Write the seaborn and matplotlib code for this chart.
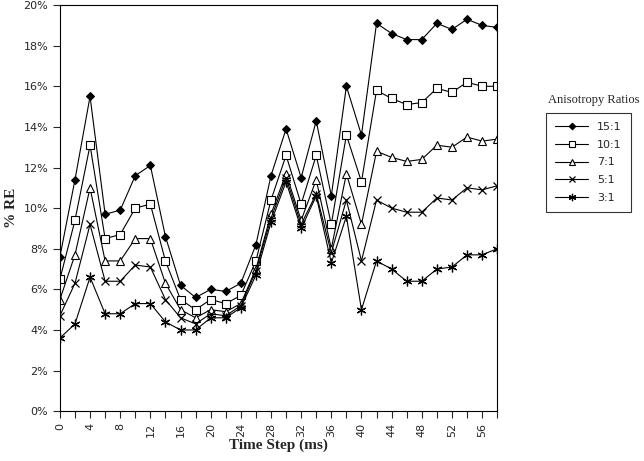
import numpy as np
import pandas as pd
import matplotlib
matplotlib.use('Agg')
import matplotlib.pyplot as plt
import seaborn as sns
from matplotlib.ticker import PercentFormatter, MultipleLocator

# time steps (ms)
time_step = list(range(0, 60, 2))

# % RE per anisotropy ratio
re_15 = [7.6, 11.4, 15.5, 9.7, 9.9, 11.6, 12.1, 8.6, 6.2, 5.6, 6.0, 5.9, 6.3, 8.2, 11.6,
         13.9, 11.5, 14.3, 10.6, 16.0, 13.6, 19.1, 18.6, 18.3, 18.3, 19.1, 18.8, 19.3, 19.0, 18.9]
re_10 = [6.5, 9.4, 13.1, 8.5, 8.7, 10.0, 10.2, 7.4, 5.5, 5.0, 5.5, 5.3, 5.7, 7.4, 10.4,
         12.6, 10.2, 12.6, 9.2, 13.6, 11.3, 15.8, 15.4, 15.1, 15.2, 15.9, 15.7, 16.2, 16.0, 16.0]
re_7 = [5.5, 7.7, 11.0, 7.4, 7.4, 8.5, 8.5, 6.3, 5.0, 4.6, 5.0, 4.9, 5.3, 7.0, 9.7,
        11.7, 9.4, 11.4, 8.0, 11.7, 9.2, 12.8, 12.5, 12.3, 12.4, 13.1, 13.0, 13.5, 13.3, 13.4]
re_5 = [4.7, 6.3, 9.2, 6.4, 6.4, 7.2, 7.1, 5.5, 4.6, 4.3, 4.8, 4.7, 5.2, 6.9, 9.5,
        11.5, 9.2, 10.7, 7.8, 10.4, 7.4, 10.4, 10.0, 9.8, 9.8, 10.5, 10.4, 11.0, 10.9, 11.1]
re_3 = [3.6, 4.3, 6.6, 4.8, 4.8, 5.3, 5.3, 4.4, 4.0, 4.0, 4.6, 4.6, 5.1, 6.7, 9.3,
        11.3, 9.0, 10.6, 7.3, 9.6, 5.0, 7.4, 7.0, 6.4, 6.4, 7.0, 7.1, 7.7, 7.7, 8.0]

ratio_labels = ['15:1', '10:1', '7:1', '5:1', '3:1']
series = [re_15, re_10, re_7, re_5, re_3]

df = pd.DataFrame({'time': time_step * 5,
                   're': np.concatenate(series),
                   'ratio': np.repeat(ratio_labels, len(time_step))})

sns.set_style('white')
plt.rcParams['font.family'] = ['DejaVu Sans']

fig = plt.figure(figsize=(6.44, 4.61), dpi=100)
ax = fig.add_axes([0.093, 0.108, 0.679, 0.881])

marker_styles = {
    '15:1': dict(marker='D', markersize=4.5, markerfacecolor='black', markeredgecolor='black'),
    '10:1': dict(marker='s', markersize=6, markerfacecolor='white', markeredgecolor='black', markeredgewidth=0.8),
    '7:1': dict(marker='^', markersize=6, markerfacecolor='white', markeredgecolor='black', markeredgewidth=0.8),
    '5:1': dict(marker='x', markersize=6, markeredgecolor='black', markeredgewidth=0.9),
    '3:1': dict(marker=(6, 2, 0), markersize=7, markeredgecolor='black', markeredgewidth=0.9),
}

for lab in ratio_labels:
    sub = df[df['ratio'] == lab]
    sns.lineplot(data=sub, x='time', y='re', ax=ax, color='black', linewidth=0.8,
                 label=lab, **marker_styles[lab])

ax.set_xlim(0, 58)
ax.set_ylim(0, 20)
ax.xaxis.set_major_locator(MultipleLocator(4))
ax.xaxis.set_minor_locator(MultipleLocator(2))
ax.yaxis.set_major_locator(MultipleLocator(2))
ax.yaxis.set_major_formatter(PercentFormatter(decimals=0))
ax.tick_params(axis='x', which='both', direction='out', length=5, width=0.8,
               labelrotation=90, labelsize=8, bottom=True)
ax.tick_params(axis='y', direction='out', length=5, width=0.8, labelsize=8, left=True)
for s in ax.spines.values():
    s.set_color('black')
    s.set_linewidth(0.8)

ax.set_xlabel('Time Step (ms)', fontsize=11, fontweight='bold', family='Liberation Serif',
              labelpad=1)
ax.set_ylabel('% RE', fontsize=11, fontweight='bold', family='Liberation Serif')

leg = ax.legend(loc='upper left', bbox_to_anchor=(0.848, 0.755),
                bbox_transform=fig.transFigure, frameon=True, fancybox=False,
                fontsize=8, handlelength=3.0, borderpad=0.8, labelspacing=0.7,
                markerscale=0.75, handletextpad=0.8, borderaxespad=0)
leg.get_frame().set_edgecolor('black')
leg.get_frame().set_linewidth(0.8)
fig.text(0.922, 0.783, 'Anisotropy Ratios', ha='center', va='center', fontsize=9,
         family='Liberation Serif')

fig.savefig('out.png', dpi=100)
